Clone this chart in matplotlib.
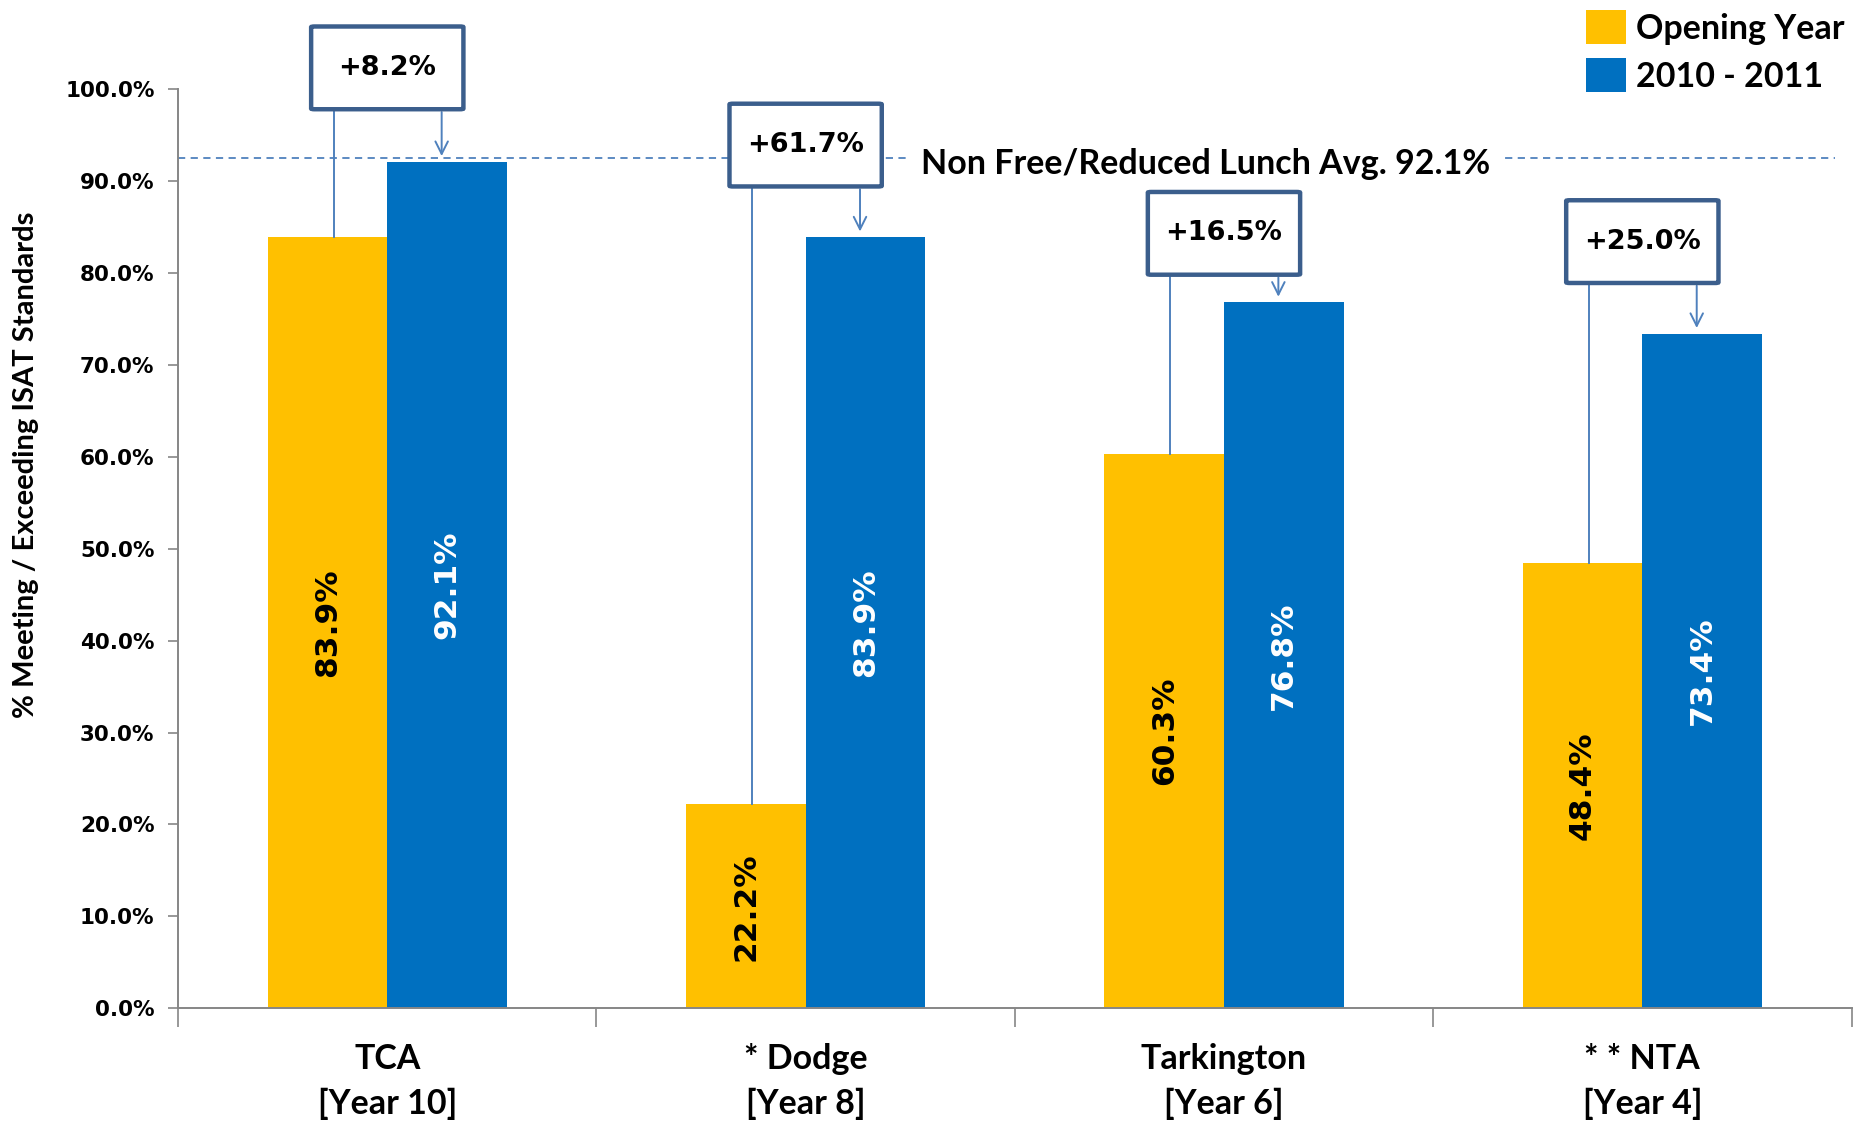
import matplotlib.pyplot as plt
from matplotlib.patches import FancyBboxPatch, Patch
import numpy as np

# chart data
schools = ['TCA\n[Year 10]', '* Dodge\n[Year 8]', 'Tarkington\n[Year 6]', '* * NTA\n[Year 4]']
opening_year = [83.9, 22.2, 60.3, 48.4]
year_2010_2011 = [92.1, 83.9, 76.8, 73.4]
nfrl_avg = 92.1
yticks = [0, 10, 20, 30, 40, 50, 60, 70, 80, 90, 100]

# callout box centres (layout only)
box_y = [102.3, 93.9, 84.3, 83.4]

YELLOW = '#FFC000'
BLUE = '#0070C0'
LINE = '#4F81BD'
BOXEDGE = '#3B5E8C'
CAL = ['Lato', 'DejaVu Sans']
TAH = ['DejaVu Sans']

fig = plt.figure(figsize=(18.61, 11.21), dpi=100)
ax = fig.add_axes([0.0957, 0.1005, 0.8992, 0.8201])

x = np.arange(len(schools))
w = 0.286
b1 = ax.bar(x - w / 2, opening_year, w, color=YELLOW, label='Opening Year')
b2 = ax.bar(x + w / 2, year_2010_2011, w, color=BLUE, label='2010 - 2011')

# values inside bars
for i in range(len(x)):
    ax.text(x[i] - w / 2, opening_year[i] / 2, f'{opening_year[i]:.1f}%', rotation=90,
            ha='center', va='center', fontsize=22.5, fontweight='bold', color='black', family=TAH)
    ax.text(x[i] + w / 2, year_2010_2011[i] / 2, f'{year_2010_2011[i]:.1f}%', rotation=90,
            ha='center', va='center', fontsize=22.5, fontweight='bold', color='white', family=TAH)

# average line
ax.axhline(nfrl_avg + 0.4, xmin=0, xmax=0.99, color=LINE, lw=1.3, ls=(0, (4, 3)), zorder=1)
ax.text(1.955, nfrl_avg - 0.3, 'Non Free/Reduced Lunch Avg. 92.1%', ha='center', va='center',
        fontsize=24.5, fontweight='bold', family=CAL,
        bbox=dict(facecolor='white', edgecolor='none', pad=8), zorder=2)

# gain callouts
bw, bh = 0.364, 9.0
for i in range(len(x)):
    gain = year_2010_2011[i] - opening_year[i]
    cy = box_y[i]
    box = FancyBboxPatch((x[i] - bw / 2, cy - bh / 2), bw, bh,
                         boxstyle='round,pad=0,rounding_size=0.008',
                         facecolor='white', edgecolor=BOXEDGE, lw=3.2,
                         clip_on=False, zorder=5, mutation_aspect=10)
    ax.add_patch(box)
    ax.text(x[i], cy, f'+{gain:.1f}%', ha='center', va='center', fontsize=19.5,
            fontweight='bold', family=TAH, zorder=6, clip_on=False)
    ax.plot([x[i] - 0.128, x[i] - 0.128], [cy - bh / 2, opening_year[i]],
            color=LINE, lw=1.4, zorder=4, clip_on=False)
    ax.annotate('', xy=(x[i] + 0.13, year_2010_2011[i] + 0.3), xytext=(x[i] + 0.13, cy - bh / 2),
                arrowprops=dict(arrowstyle='->,head_length=0.9,head_width=0.45', color=LINE, lw=1.4),
                zorder=4, annotation_clip=False)

ax.set_xlim(-0.5, len(schools) - 0.5)
ax.set_ylim(0, 100)
ax.set_yticks(yticks)
ax.set_yticklabels([f'{v:.1f}%' for v in yticks], fontsize=15.5, fontweight='bold', family=TAH)
ax.set_xticks(np.arange(-0.5, len(schools)), labels=[''] * (len(schools) + 1))
ax.set_xticks(x, labels=schools, minor=True)
ax.tick_params(axis='x', which='major', length=14, color='#868686', width=1.2, direction='out')
ax.tick_params(axis='x', which='minor', length=0, pad=25)
ax.tick_params(axis='y', length=7, color='#868686', width=1.2, pad=10)
for lab in ax.get_xticklabels(minor=True):
    lab.set_fontsize(24.5)
    lab.set_fontweight('bold')
    lab.set_family(CAL)
    lab.set_linespacing(1.5)

for s in ['top', 'right']:
    ax.spines[s].set_visible(False)
for s in ['left', 'bottom']:
    ax.spines[s].set_color('#868686')
    ax.spines[s].set_linewidth(1.4)

ax.set_ylabel('% Meeting / Exceeding ISAT Standards', fontsize=21, fontweight='bold', family=CAL)
ax.yaxis.set_label_coords(-0.0832, 0.591)

handles = [Patch(facecolor=YELLOW), Patch(facecolor=BLUE)]
leg = fig.legend(handles, ['Opening Year', '2010 - 2011'], loc='upper left',
                 bbox_to_anchor=(0.836, 1.018), frameon=False,
                 prop=dict(family=CAL, size=24.5, weight='bold'),
                 handlelength=1.15, handleheight=1.15, handletextpad=0.3, labelspacing=0.4)

fig.savefig('out.png', dpi=100)
